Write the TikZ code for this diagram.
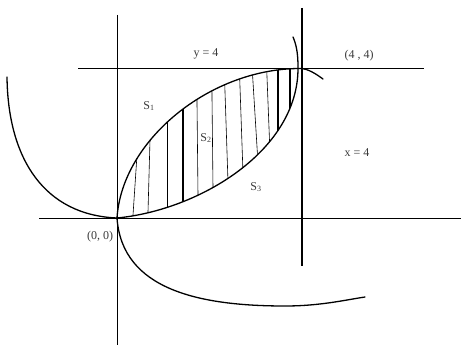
\documentclass[tikz,border=0pt]{standalone}
\usepackage{fontspec}
\setmainfont{Liberation Serif}
\usepackage{tikz}
\definecolor{inkgray}{HTML}{3A3A3A}
\tikzset{
  axis/.style={draw=black,line width=0.8pt},
  guide/.style={draw=black,line width=0.8pt},
  xguide/.style={draw=black,line width=1.4pt},
  curve/.style={draw=black,line width=1.3pt,line cap=round},
  hatch/.style={draw=black,line width=0.6pt},
  thickhatch/.style={hatch,line width=1.1pt},
  lbl/.style={text=inkgray,font=\fontsize{12}{14}\selectfont,inner sep=0pt}
}

\begin{document}
\begin{tikzpicture}[x=1pt,y=-1pt]
  \useasboundingbox (0,0) rectangle (461,345);
  \coordinate (O) at (117,218);
  \coordinate (P) at (302,68);
  \coordinate (U) at (300,68.5);
  \coordinate (L) at (298,67);

  % axes and the two lines x = 4, y = 4
  \draw[axis] (O |- 0,15) -- (O |- 0,345);
  \draw[axis] (39,218) -- (461,218);
  \draw[guide] (78,68) -- (424,68);
  \draw[xguide] (P |- 0,8) -- (P |- 0,266);

  % hatching between the curves
  \begin{scope}
    \clip (O) .. controls (122,140) and (210,68.5) .. (U)
      -- (L) .. controls (299,150) and (200,210) .. (O) -- cycle;
    \foreach \xt/\yt/\xb/\yb/\w in {137/155/133/215/hatch, 150/140/148/212/hatch,
        167/125/167/207/hatch, 183/112/183/202/thickhatch, 197/103/198/195/hatch,
        212/97/213/188/hatch, 225/92/228/182/hatch, 240/87/243/173/hatch,
        253/82/258/163/hatch, 267/77/270/153/hatch, 278/73/278/137/thickhatch,
        290/70/290/113/thickhatch}
      \draw[\w,shorten <=-10pt,shorten >=-10pt] (\xt,\yt) -- (\xb,\yb);
  \end{scope}

  % curves
  \draw[curve] (O) .. controls (122,140) and (210,68.5) .. (U)
    .. controls (308,68.5) and (316,74) .. (323,79);
  \draw[curve] (O) .. controls (200,210) and (299,150) .. (L)
    .. controls (298,52) and (296,44) .. (293,37);
  \draw[curve] (7,77) .. controls (8,160) and (45,215) .. (O);
  \draw[curve] (O) .. controls (122,290) and (200,306) .. (285,306)
    .. controls (320,306) and (345,300) .. (365,297);

  % labels
  \node[lbl] (ylbl) at (206,54) {y = 4};
  \node[lbl] (plbl) at (359,56) {(4 , 4)};
  \node[lbl] (xlbl) at (357,153) {x = 4};
  \node[lbl] (olbl) at (100,237) {(0, 0)};
  \node[lbl] (s1) at (149,106) {S\textsubscript{1}};
  \node[lbl] (s2) at (206,138) {S\textsubscript{2}};
  \node[lbl] (s3) at (256,187) {S\textsubscript{3}};
\end{tikzpicture}
\end{document}
